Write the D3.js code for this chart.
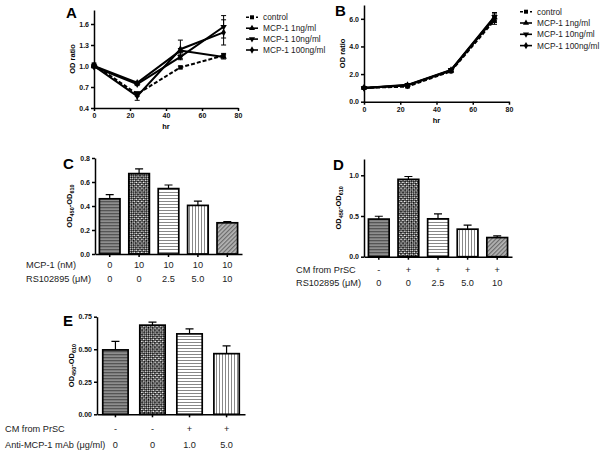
<!DOCTYPE html>
<html>
<head>
<meta charset="utf-8">
<script src="https://cdn.jsdelivr.net/npm/d3@7"></script>
<style>
  body { margin: 0; background: #fff; }
  svg { display: block; font-family: Arial, "Liberation Sans", sans-serif; }
  .axis path, .axis line { stroke: #000; stroke-width: 1.5; }
  .axis text { font-size: 7px; font-weight: bold; fill: #111; }
</style>
</head>
<body>
<svg width="600" height="456"></svg>
<script>
// time course panels (A, B)
const hours = [0, 24, 48, 72];
const seriesNames = ['control', 'MCP-1 1ng/ml', 'MCP-1 10ng/ml', 'MCP-1 100ng/ml'];
const xTicks = [0, 20, 40, 60, 80];

const aControl = [1.02, 0.60, 0.98, 1.15];
const aMcp1 = [1.00, 0.76, 1.22, 1.13];
const aMcp10 = [0.99, 0.74, 1.13, 1.56];
const aMcp100 = [1.00, 0.57, 1.24, 1.48];
const aControlErr = [0.02, 0.03, 0.02, 0.03];
const aMcp1Err = [0.02, 0.02, 0.03, 0.03];
const aMcp10Err = [0.02, 0.02, 0.04, 0.16];
const aMcp100Err = [0.02, 0.06, 0.13, 0.18];
const aYTicks = [0.4, 0.7, 1.0, 1.3, 1.6];

const bControl = [1.0, 1.09, 2.20, 5.90];
const bMcp1 = [1.0, 1.20, 2.25, 6.10];
const bMcp10 = [1.0, 1.22, 2.30, 6.15];
const bMcp100 = [1.0, 1.18, 2.28, 6.05];
const bControlErr = [0.03, 0.05, 0.08, 0.30];
const bMcp1Err = [0.03, 0.06, 0.08, 0.35];
const bMcp10Err = [0.03, 0.06, 0.08, 0.30];
const bMcp100Err = [0.03, 0.05, 0.08, 0.30];
const bYTicks = [0, 2, 4, 6];

// bar panels (C, D, E)
const cValues = [0.46, 0.67, 0.545, 0.405, 0.26];
const cErrors = [0.035, 0.04, 0.03, 0.035, 0.01];
const cMcp = ['0', '10', '10', '10', '10'];
const cRs = ['0', '0', '2.5', '5.0', '10'];
const cYTicks = [0, 0.2, 0.4, 0.6, 0.8];

const dValues = [0.462, 0.95, 0.465, 0.338, 0.235];
const dErrors = [0.035, 0.035, 0.06, 0.05, 0.02];
const dCm = ['-', '+', '+', '+', '+'];
const dRs = ['0', '0', '2.5', '5.0', '10'];
const dYTicks = [0, 0.5, 1.0];

const eValues = [0.495, 0.685, 0.618, 0.466];
const eErrors = [0.066, 0.023, 0.038, 0.06];
const eCm = ['-', '-', '+', '+'];
const eAb = ['0', '0', '1.0', '5.0'];
const eYTicks = [0, 0.25, 0.5, 0.75];

const svg = d3.select('svg');
const defs = svg.append('defs');

// fill patterns used by the bars
function pattern(id, w, h, bg, draw, rot) {
  const p = defs.append('pattern')
    .attr('id', id)
    .attr('patternUnits', 'userSpaceOnUse')
    .attr('width', w).attr('height', h);
  if (rot) p.attr('patternTransform', `rotate(${rot})`);
  p.append('rect').attr('width', w).attr('height', h).attr('fill', bg);
  draw(p);
}
pattern('darkH', 3, 3, '#8e8e8e', p => {
  p.append('rect').attr('width', 3).attr('height', 1.3).attr('fill', '#555');
});
pattern('check', 3, 3, '#fff', p => {
  p.append('rect').attr('width', 1.8).attr('height', 1.8).attr('fill', '#000');
  p.append('rect').attr('x', 1.5).attr('y', 1.5).attr('width', 1.8).attr('height', 1.8).attr('fill', '#000');
}, 45);
pattern('lightH', 3, 3, '#fff', p => {
  p.append('rect').attr('width', 3).attr('height', 1).attr('fill', '#888');
});
pattern('lightV', 3, 3, '#fff', p => {
  p.append('rect').attr('width', 1).attr('height', 3).attr('fill', '#888');
});
pattern('diag', 3, 3, '#b5b5b5', p => {
  p.append('rect').attr('width', 3).attr('height', 1.2).attr('fill', '#6a6a6a');
}, -45);
const fills = ['url(#darkH)', 'url(#check)', 'url(#lightH)', 'url(#lightV)', 'url(#diag)'];

const markers = [d3.symbolSquare, d3.symbolTriangle, d3.symbolTriangle, d3.symbolDiamond];
const markerRot = [0, 0, 180, 0];

function panelLetter(x, y, txt) {
  svg.append('text')
    .attr('x', x).attr('y', y)
    .attr('font-size', 15).attr('font-weight', 'bold')
    .text(txt);
}

function linePanel(opt) {
  const x = d3.scaleLinear().domain([0, 80]).range([opt.left, opt.right]);
  const y = d3.scaleLinear().domain(opt.yDomain).range([opt.bottom, opt.top]);
  const g = svg.append('g');

  g.append('g').attr('class', 'axis')
    .attr('transform', `translate(0,${opt.bottom})`)
    .call(d3.axisBottom(x).tickValues(xTicks).tickSize(3).tickSizeOuter(0).tickPadding(2));
  g.append('g').attr('class', 'axis')
    .attr('transform', `translate(${opt.left},0)`)
    .call(d3.axisLeft(y).tickValues(opt.yTicks).tickFormat(d3.format('.1f')).tickSize(3).tickSizeOuter(0).tickPadding(2));

  const line = d3.line().x((d, i) => x(hours[i])).y(d => y(d));

  opt.series.forEach((s, k) => {
    g.append('path')
      .attr('d', line(s.values))
      .attr('fill', 'none')
      .attr('stroke', '#000')
      .attr('stroke-width', 2)
      .attr('stroke-dasharray', k === 0 ? '4,2' : null);
    s.values.forEach((v, i) => {
      const cx = x(hours[i]);
      const e = s.errors[i];
      g.append('path')
        .attr('d', `M${cx},${y(v + e)}V${y(v - e)}M${cx - 2.5},${y(v + e)}H${cx + 2.5}M${cx - 2.5},${y(v - e)}H${cx + 2.5}`)
        .attr('stroke', '#000').attr('stroke-width', 1);
      g.append('path')
        .attr('d', d3.symbol().type(markers[k]).size(18)())
        .attr('transform', `translate(${cx},${y(v)}) rotate(${markerRot[k]})`)
        .attr('fill', '#000');
    });
  });

  // legend
  seriesNames.forEach((name, k) => {
    const ly = opt.legendY + k * opt.legendStep;
    g.append('line')
      .attr('x1', opt.legendX).attr('x2', opt.legendX + 12)
      .attr('y1', ly).attr('y2', ly)
      .attr('stroke', '#000').attr('stroke-width', 1.6)
      .attr('stroke-dasharray', k === 0 ? '3,2' : null);
    g.append('path')
      .attr('d', d3.symbol().type(markers[k]).size(16)())
      .attr('transform', `translate(${opt.legendX + 6},${ly}) rotate(${markerRot[k]})`)
      .attr('fill', '#000');
    g.append('text')
      .attr('x', opt.legendX + 17).attr('y', ly + 3)
      .attr('font-size', 8.3).attr('fill', '#222')
      .text(name);
  });

  g.append('text')
    .attr('transform', `translate(${opt.left - 19},${(opt.top + opt.bottom) / 2}) rotate(-90)`)
    .attr('text-anchor', 'middle')
    .attr('font-size', 7.5).attr('font-weight', 'bold')
    .text('OD ratio');
  g.append('text')
    .attr('x', (opt.left + opt.right) / 2).attr('y', opt.bottom + 21)
    .attr('text-anchor', 'middle')
    .attr('font-size', 7.5).attr('font-weight', 'bold')
    .text('hr');
}

function barPanel(opt) {
  const n = opt.values.length;
  const x = d3.scaleBand().domain(d3.range(n)).range([opt.left, opt.right])
    .paddingInner(opt.padIn).paddingOuter(opt.padOut);
  const y = d3.scaleLinear().domain(opt.yDomain).range([opt.bottom, opt.top]);
  const g = svg.append('g');

  // error bars (upper only)
  g.selectAll('.err').data(opt.values).enter().append('path')
    .attr('d', (d, i) => {
      const cx = x(i) + x.bandwidth() / 2;
      const t = y(d + opt.errors[i]);
      return `M${cx},${y(d)}V${t}M${cx - 4},${t}H${cx + 4}`;
    })
    .attr('stroke', '#000').attr('stroke-width', 1.2);

  g.selectAll('.bar').data(opt.values).enter().append('rect')
    .attr('x', (d, i) => x(i))
    .attr('y', d => y(d))
    .attr('width', x.bandwidth())
    .attr('height', d => opt.bottom - y(d))
    .attr('fill', (d, i) => fills[i])
    .attr('stroke', '#000').attr('stroke-width', 1.7);

  g.append('g').attr('class', 'axis')
    .attr('transform', `translate(0,${opt.bottom})`)
    .call(d3.axisBottom(x).tickFormat('').tickSize(3).tickSizeOuter(0));
  g.append('g').attr('class', 'axis')
    .attr('transform', `translate(${opt.left},0)`)
    .call(d3.axisLeft(y).tickValues(opt.yTicks).tickFormat(d3.format(opt.fmt)).tickSize(3).tickSizeOuter(0).tickPadding(2));

  // y title OD450-OD610
  const t = g.append('text')
    .attr('transform', `translate(${opt.left - 23},${(opt.top + opt.bottom) / 2}) rotate(-90)`)
    .attr('text-anchor', 'middle')
    .attr('font-size', 7.5).attr('font-weight', 'bold');
  t.append('tspan').text('OD');
  t.append('tspan').attr('font-size', 5.5).attr('dy', 2).text('450');
  t.append('tspan').attr('dy', -2).text('-OD');
  t.append('tspan').attr('font-size', 5.5).attr('dy', 2).text('610');

  // condition rows under the bars
  opt.rows.forEach(r => {
    g.append('text')
      .attr('x', opt.rowX).attr('y', r.y)
      .attr('font-size', 9.2).attr('fill', '#222')
      .text(r.label);
    g.selectAll(null).data(r.values).enter().append('text')
      .attr('x', (d, i) => x(i) + x.bandwidth() / 2)
      .attr('y', r.y)
      .attr('text-anchor', 'middle')
      .attr('font-size', 9.2).attr('fill', '#222')
      .text(d => d);
  });
}

panelLetter(66, 18, 'A');
linePanel({
  left: 94, right: 238, top: 10, bottom: 108,
  yDomain: [0.4, 1.8], yTicks: aYTicks,
  series: [
    { values: aControl, errors: aControlErr },
    { values: aMcp1, errors: aMcp1Err },
    { values: aMcp10, errors: aMcp10Err },
    { values: aMcp100, errors: aMcp100Err }
  ],
  legendX: 246, legendY: 17.3, legendStep: 10.9
});

panelLetter(335, 16, 'B');
linePanel({
  left: 364, right: 509, top: 5, bottom: 101.7,
  yDomain: [0, 7], yTicks: bYTicks,
  series: [
    { values: bControl, errors: bControlErr },
    { values: bMcp1, errors: bMcp1Err },
    { values: bMcp10, errors: bMcp10Err },
    { values: bMcp100, errors: bMcp100Err }
  ],
  legendX: 520, legendY: 11.7, legendStep: 11.3
});

panelLetter(63, 169, 'C');
barPanel({
  left: 95, right: 242, top: 158, bottom: 254,
  yDomain: [0, 0.8], yTicks: cYTicks, fmt: '.1f',
  values: cValues, errors: cErrors, padIn: 0.3, padOut: 0.15,
  rowX: 26,
  rows: [
    { label: 'MCP-1 (nM)', values: cMcp, y: 267.5 },
    { label: 'RS102895 (\u03bcM)', values: cRs, y: 282 }
  ]
});

panelLetter(333, 170, 'D');
barPanel({
  left: 364, right: 512, top: 159, bottom: 256.7,
  yDomain: [0, 1.2], yTicks: dYTicks, fmt: '.1f',
  values: dValues, errors: dErrors, padIn: 0.3, padOut: 0.15,
  rowX: 296,
  rows: [
    { label: 'CM from PrSC', values: dCm, y: 272.5 },
    { label: 'RS102895 (\u03bcM)', values: dRs, y: 286 }
  ]
});

panelLetter(63, 326, 'E');
barPanel({
  left: 97, right: 245, top: 316.7, bottom: 414.3,
  yDomain: [0, 0.75], yTicks: eYTicks, fmt: '.2f',
  values: eValues, errors: eErrors, padIn: 0.315, padOut: 0.155,
  rowX: 5,
  rows: [
    { label: 'CM from PrSC', values: eCm, y: 431.5 },
    { label: 'Anti-MCP-1 mAb (\u03bcg/ml)', values: eAb, y: 447.5 }
  ]
});
</script>
</body>
</html>
